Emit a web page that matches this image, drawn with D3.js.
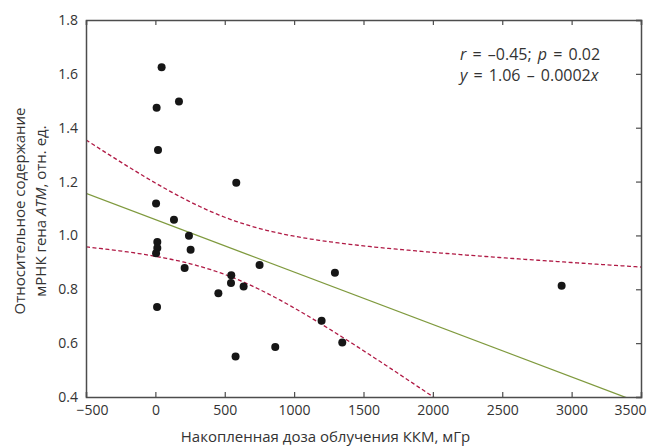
<!DOCTYPE html>
<html>
<head>
<meta charset="utf-8">
<script src="https://cdn.jsdelivr.net/npm/d3@7"></script>
<style>
  body { margin: 0; background: #fff; }
  text { font-family: "Open Sans", "Noto Sans", sans-serif; fill: #333; }
</style>
</head>
<body>
<div id="chart"></div>
<script>
// accumulated dose (mGy) vs relative ATM mRNA
var dose = [45, 9, 170, 19, 583, 5, 134, 14, 14, 5, 242, 254, 211, 12, 454,
            547, 545, 636, 751, 578, 864, 1198, 1294, 1347, 2928];
var expr = [1.625, 1.474, 1.497, 1.317, 1.196, 1.119, 1.058, 0.976, 0.953, 0.934, 0.999, 0.947, 0.879, 0.734, 0.785,
            0.852, 0.823, 0.810, 0.890, 0.550, 0.586, 0.683, 0.861, 0.602, 0.813];
var xTicks = [-500, 0, 500, 1000, 1500, 2000, 2500, 3000, 3500];
var yTicks = [0.4, 0.6, 0.8, 1.0, 1.2, 1.4, 1.6, 1.8];

var W = 650, H = 448;
var margin = { top: 20, right: 9, bottom: 51, left: 86 },
    width = W - margin.left - margin.right,
    height = H - margin.top - margin.bottom;

var svg = d3.select("#chart").append("svg")
    .attr("width", W).attr("height", H);

var g = svg.append("g")
    .attr("transform", "translate(" + margin.left + "," + margin.top + ")");

var x = d3.scaleLinear().domain([-500, 3500]).range([0, width]);
var y = d3.scaleLinear().domain([0.4, 1.8]).range([height, 0]);

// regression + 95% CI of the mean
var n = dose.length,
    mx = d3.mean(dose), my = d3.mean(expr);
var sxx = d3.sum(dose, function (d) { return (d - mx) * (d - mx); });
var sxy = d3.sum(dose, function (d, i) { return (d - mx) * (expr[i] - my); });
var b = sxy / sxx, a = my - b * mx;
var sse = d3.sum(dose, function (d, i) { var e = expr[i] - (a + b * d); return e * e; });
var s = Math.sqrt(sse / (n - 2)), t = 2.069;

var grid = d3.range(-500, 3501, 20);
function band(sign) {
  return grid.map(function (v) {
    var se = s * Math.sqrt(1 / n + (v - mx) * (v - mx) / sxx);
    return [v, a + b * v + sign * t * se];
  });
}

g.append("clipPath").attr("id", "clip")
  .append("rect").attr("width", width).attr("height", height);

var line = d3.line()
    .x(function (d) { return x(d[0]); })
    .y(function (d) { return y(d[1]); });

var plot = g.append("g").attr("clip-path", "url(#clip)");

plot.append("path")
    .datum([[-500, a - 500 * b], [3500, a + 3500 * b]])
    .attr("d", line)
    .attr("fill", "none").attr("stroke", "#7f9a3e").attr("stroke-width", 1.3);

[1, -1].forEach(function (sg) {
  plot.append("path")
      .datum(band(sg))
      .attr("d", line)
      .attr("fill", "none").attr("stroke", "#b01a45")
      .attr("stroke-width", 1.3).attr("stroke-dasharray", "4,2.5");
});

g.selectAll("circle.pt")
    .data(dose)
    .enter().append("circle")
    .attr("class", "pt")
    .attr("cx", function (d) { return x(d); })
    .attr("cy", function (d, i) { return y(expr[i]); })
    .attr("r", 4)
    .attr("fill", "#161616");

// axes
var axisColor = "#4d4d4d";
var fmt = function (d) { return d < 0 ? "\u2212" + Math.abs(d) : d; };

var xb = g.append("g").attr("transform", "translate(0," + height + ")")
    .call(d3.axisBottom(x).tickValues(xTicks).tickSize(-5).tickPadding(8).tickFormat(fmt));
var xt = g.append("g")
    .call(d3.axisTop(x).tickValues(xTicks).tickSize(-5).tickFormat(""));
var yl = g.append("g")
    .call(d3.axisLeft(y).tickValues(yTicks).tickSize(0).tickPadding(8).tickFormat(d3.format(".1f")));
var yr = g.append("g").attr("transform", "translate(" + width + ",0)")
    .call(d3.axisRight(y).tickValues(yTicks).tickSize(-5).tickFormat(""));

[xb, xt, yl, yr].forEach(function (ax) {
  ax.select(".domain").attr("stroke", axisColor).attr("stroke-width", 1.5);
  ax.selectAll(".tick line").attr("stroke", axisColor).attr("stroke-width", 1.2);
  ax.selectAll("text").attr("font-size", 14).attr("fill", "#333")
    .attr("font-family", "Open Sans, sans-serif");
});

// end labels sit slightly inside, as in the original
xb.selectAll(".tick text")
    .attr("dx", function (d) { return d === -500 ? 6 : d === 3500 ? -11 : 0; });

// axis titles
svg.append("text")
    .attr("x", margin.left + width / 2 - 38).attr("y", 442)
    .attr("text-anchor", "middle").attr("font-size", 15)
    .text("Накопленная доза облучения ККМ, мГр");

var yt = svg.append("g").attr("transform", "translate(0,211) rotate(-90)");
yt.append("text").attr("x", 0).attr("y", 25)
    .attr("text-anchor", "middle").attr("font-size", 15)
    .text("Относительное содержание");
var l2 = yt.append("text").attr("x", 0).attr("y", 46)
    .attr("text-anchor", "middle").attr("font-size", 15);
l2.append("tspan").text("мРНК гена ");
l2.append("tspan").attr("font-style", "italic").text("ATM");
l2.append("tspan").text(", отн. ед.");

// annotation
var ann = svg.append("text").attr("x", 460).attr("y", 60)
    .attr("font-size", 16).attr("word-spacing", 2);
ann.append("tspan").attr("font-style", "italic").text("r");
ann.append("tspan").text(" = \u20130.45; ");
ann.append("tspan").attr("font-style", "italic").text("p");
ann.append("tspan").text(" = 0.02");
var ann2 = svg.append("text").attr("x", 460).attr("y", 81)
    .attr("font-size", 16).attr("word-spacing", 2);
ann2.append("tspan").attr("font-style", "italic").text("y");
ann2.append("tspan").text(" = 1.06 \u2013 0.0002");
ann2.append("tspan").attr("font-style", "italic").text("x");
</script>
</body>
</html>
